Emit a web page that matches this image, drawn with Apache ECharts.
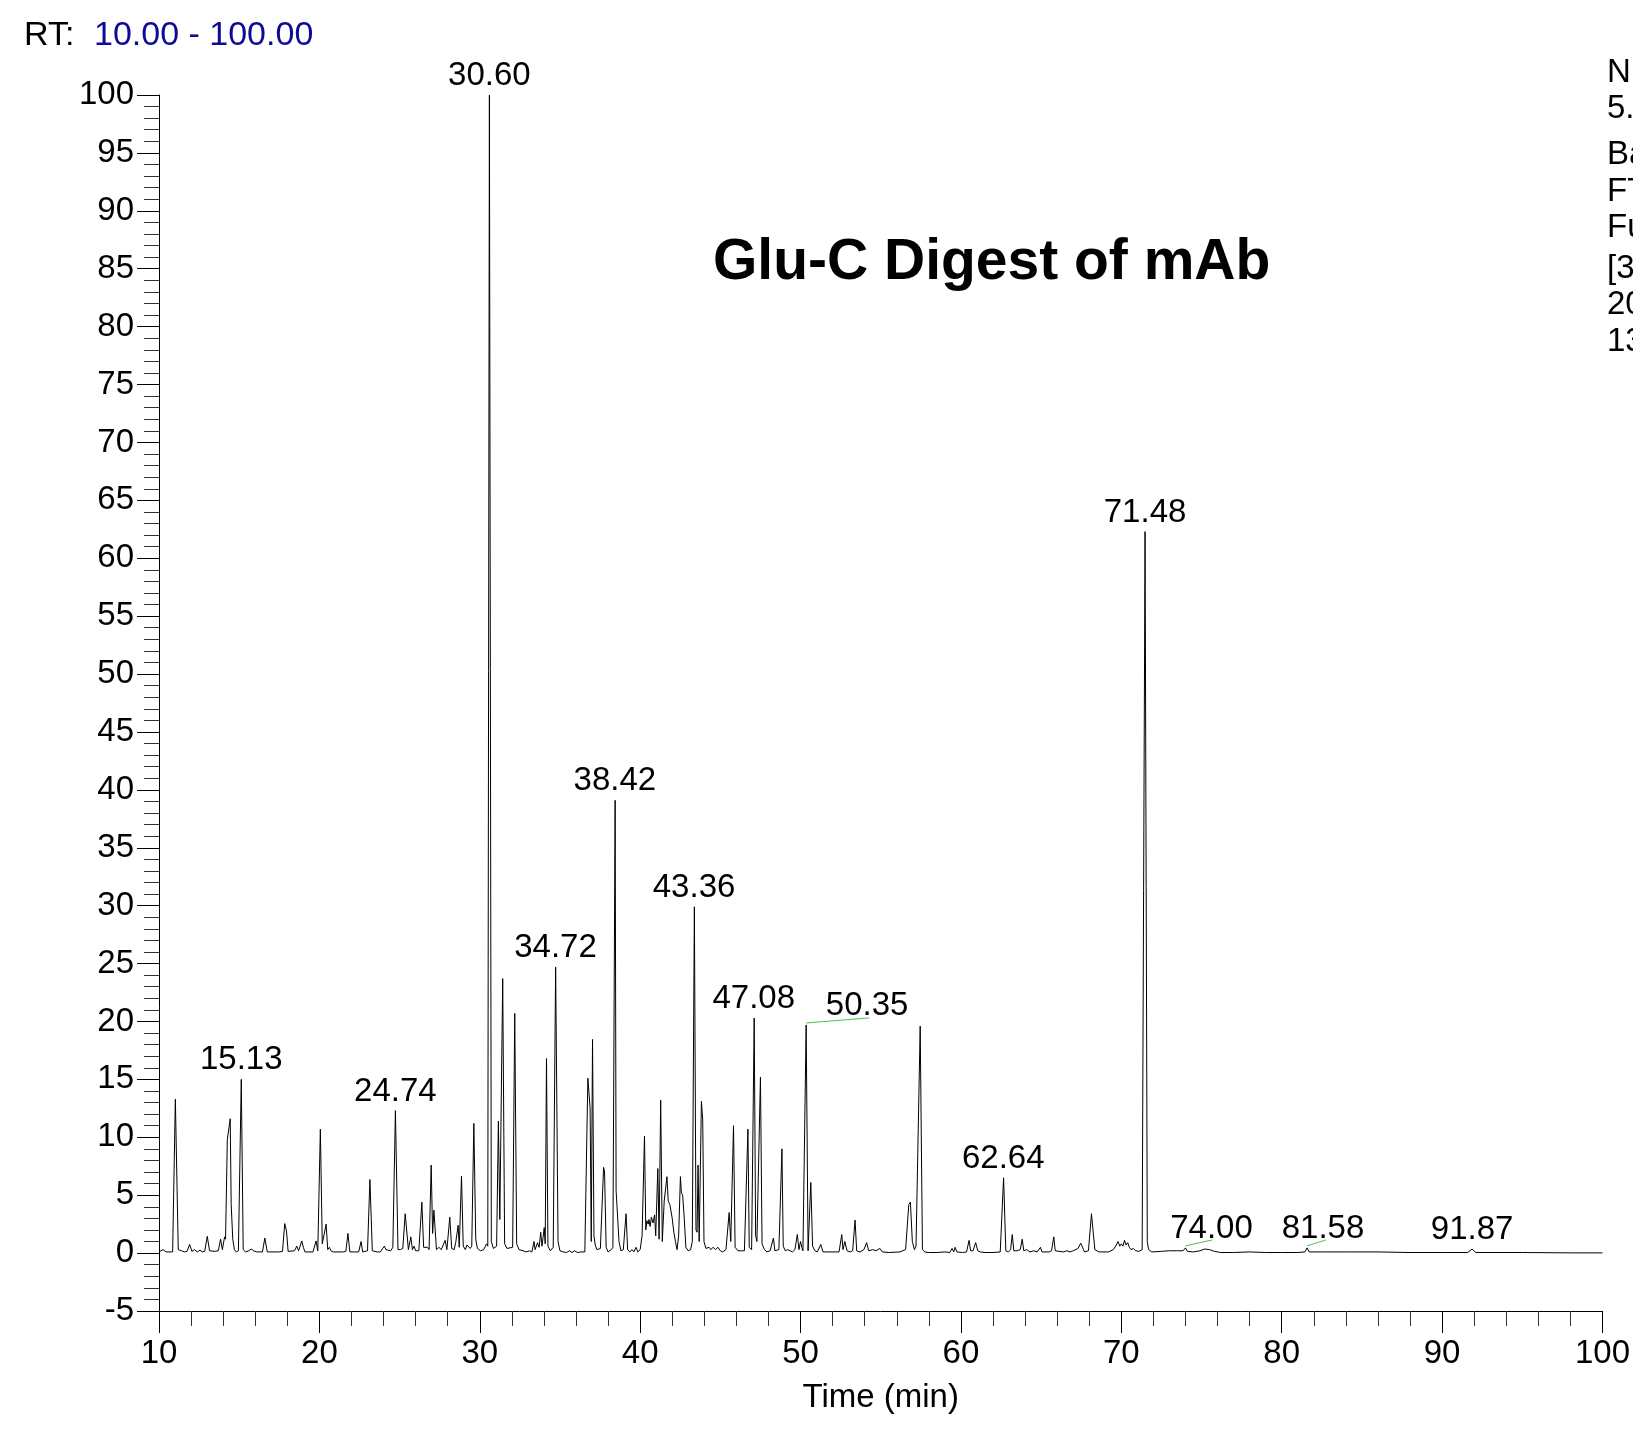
<!DOCTYPE html>
<html>
<head>
<meta charset="utf-8">
<title>Glu-C Digest of mAb</title>
<script src="https://cdn.jsdelivr.net/npm/echarts@6/dist/echarts.min.js"></script>
<style>
  html, body { margin: 0; padding: 0; background: #fff; }
  #main { width: 1633px; height: 1429px; }
</style>
</head>
<body>
<div id="main"></div>
<script>
// trace, [time (min), relative abundance]
var trace10to20 = [
  [10.00,0.1],[10.25,0.3],[10.45,0.1],[10.85,0.1],[11.02,13.3],[11.2,0.3],[11.4,0.2],[11.6,0.1],
  [11.75,0.15],[11.91,0.75],[12.05,0.15],[12.2,0.3],[12.4,0.1],[12.55,0.25],[12.7,0.1],[12.85,0.15],
  [13.01,1.45],[13.15,0.2],[13.5,0.15],[13.7,0.2],[13.84,1.2],[13.95,0.3],[14.09,1.4],[14.15,1.2],
  [14.26,9.8],[14.44,11.6],[14.5,4.2],[14.6,1.2],[14.7,0.3],[14.82,0.1],[14.95,0.2],[15.13,15.0],
  [15.25,0.3],[15.4,0.1],[15.6,0.2],[15.75,0.35],[15.9,0.2],[16.1,0.1],[16.45,0.1],[16.6,1.3],
  [16.75,0.1],[17.5,0.1],[17.7,0.15],[17.84,2.55],[17.95,1.9],[18.05,0.15],[18.45,0.2],[18.59,0.6],
  [18.7,0.2],[18.8,0.6],[18.9,1.05],[19.0,0.5],[19.1,0.1],[19.6,0.1],[19.79,1.05],[19.9,0.2]
];
var trace20to30 = [
  [20.06,10.7],[20.18,0.8],[20.3,0.8],[20.42,2.5],[20.52,0.3],[20.62,0.5],[20.72,0.2],[20.85,0.1],
  [21.5,0.1],[21.65,0.15],[21.78,1.7],[21.9,0.1],[22.45,0.1],[22.6,1.0],[22.7,0.1],[23.0,0.2],
  [23.15,6.35],[23.3,0.2],[23.6,0.1],[23.8,0.1],[23.95,0.4],[24.05,0.6],[24.15,0.3],[24.25,0.4],
  [24.45,0.2],[24.58,0.5],[24.74,12.3],[24.9,0.3],[25.05,0.3],[25.2,0.4],[25.35,3.4],[25.42,3.3],
  [25.55,0.3],[25.7,1.4],[25.8,0.3],[25.9,0.6],[26.0,0.2],[26.2,0.2],[26.39,4.4],[26.5,0.5],
  [26.62,0.4],[26.75,0.5],[26.84,0.3],[26.97,7.6],[27.06,1.7],[27.14,3.7],[27.3,0.3],[27.45,0.5],
  [27.6,0.3],[27.72,0.4],[27.84,1.1],[27.95,0.3],[28.13,3.1],[28.25,0.4],[28.4,0.3],[28.5,0.9],
  [28.65,2.4],[28.72,0.5],[28.86,6.65],[28.97,0.6],[29.1,0.3],[29.2,0.7],[29.4,0.4],[29.5,0.6],
  [29.63,11.2],[29.75,1.2],[29.85,0.4],[29.95,0.5],[30.05,0.2],[30.25,0.3],[30.42,0.8],[30.5,0.6]
];
var trace30to40 = [
  [30.6,100],[30.72,1.0],[30.85,0.4],[30.95,0.4],[31.05,0.6],[31.16,11.4],[31.25,2.9],[31.43,23.7],
  [31.55,0.8],[31.7,0.4],[31.8,0.3],[32.05,0.5],[32.18,20.7],[32.3,0.8],[32.45,0.3],[32.7,0.2],
  [32.9,0.1],[33.1,0.2],[33.25,0.1],[33.38,1.0],[33.45,0.3],[33.6,0.9],[33.7,0.5],[33.8,1.8],
  [33.88,0.6],[34.02,2.2],[34.08,0.8],[34.16,16.8],[34.25,0.6],[34.4,0.2],[34.58,0.5],[34.73,24.7],
  [34.88,1.0],[35.0,0.2],[35.2,0.1],[35.4,0.05],[35.6,0.2],[35.75,0.05],[35.9,0.2],[36.1,0.05],
  [36.3,0.1],[36.55,0.1],[36.74,15.1],[36.88,12.5],[36.95,1.0],[37.03,18.45],[37.12,1.5],[37.2,0.7],
  [37.3,0.3],[37.4,0.2],[37.52,0.4],[37.58,0.3],[37.72,7.4],[37.78,7.0],[37.88,0.5],[38.0,0.1],
  [38.1,0.2],[38.2,0.3],[38.3,0.5],[38.44,39.1],[38.5,5.4],[38.58,5.3],[38.68,1.0],[38.8,0.2],
  [38.95,0.3],[39.12,3.4],[39.22,0.3],[39.35,0.1],[39.5,0.3],[39.6,0.1],[39.75,0.5],[39.85,0.1]
];
var trace40to50 = [
  [40.0,0.3],[40.12,1.5],[40.27,10.1],[40.35,2.0],[40.42,2.8],[40.5,2.5],[40.55,2.9],[40.62,2.3],
  [40.7,3.1],[40.8,2.6],[40.9,3.3],[40.97,1.5],[41.1,7.3],[41.18,1.2],[41.28,13.2],[41.38,1.0],
  [41.5,4.5],[41.67,6.6],[41.75,4.5],[41.85,4.2],[42.0,3.0],[42.1,1.8],[42.2,1.0],[42.3,0.3],
  [42.4,1.5],[42.51,6.6],[42.57,5.2],[42.65,5.0],[42.75,3.0],[42.85,0.5],[43.0,0.2],[43.15,0.3],
  [43.25,1.0],[43.38,29.9],[43.48,2.0],[43.55,1.8],[43.61,7.6],[43.68,1.0],[43.82,13.1],[43.9,11.5],
  [43.98,1.0],[44.1,0.4],[44.3,0.5],[44.4,0.3],[44.55,0.5],[44.7,0.3],[44.85,0.5],[45.0,0.2],
  [45.15,0.1],[45.35,0.3],[45.55,3.5],[45.65,1.0],[45.82,11.0],[45.92,0.5],[46.1,0.2],[46.3,0.2],
  [46.5,0.2],[46.62,0.3],[46.72,10.7],[46.8,0.5],[46.95,0.3],[47.11,20.3],[47.2,1.5],[47.28,1.0],
  [47.5,15.2],[47.6,0.8],[47.75,0.3],[47.9,0.1],[48.1,0.2],[48.31,1.3],[48.4,0.2],[48.5,0.2],
  [48.65,0.3],[48.84,9.0],[48.92,0.6],[49.05,0.2],[49.2,0.3],[49.35,0.2],[49.5,0.1],[49.65,0.3],
  [49.8,1.6],[49.9,0.3],[50.0,1.0],[50.08,0.5],[50.15,0.2]
];
var trace50to70 = [
  [50.35,19.7],[50.47,0.2],[50.64,6.1],[50.75,0.6],[50.9,0.2],[51.05,0.1],[51.26,0.75],[51.4,0.1],
  [52.2,0.1],[52.4,0.1],[52.57,1.6],[52.65,0.3],[52.76,1.0],[52.9,0.2],[53.1,0.1],[53.25,0.2],
  [53.4,2.85],[53.5,0.2],[53.7,0.1],[53.95,0.3],[54.12,0.9],[54.25,0.2],[54.5,0.3],[54.7,0.2],
  [54.95,0.4],[55.1,0.1],[55.5,0.05],[56.2,0.1],[56.55,0.3],[56.75,4.2],[56.85,4.4],[56.97,1.0],
  [57.1,0.3],[57.2,0.6],[57.46,19.6],[57.6,0.3],[57.75,0.1],[58.0,0.05],[58.5,0.05],[59.0,0.1],
  [59.3,0.05],[59.45,0.4],[59.55,0.1],[59.64,0.5],[59.75,0.1],[60.1,0.05],[60.35,0.1],[60.51,1.1],
  [60.6,0.2],[60.75,0.2],[60.92,0.9],[61.05,0.2],[61.2,0.1],[61.5,0.05],[62.0,0.05],[62.45,0.1],
  [62.66,6.5],[62.8,0.2],[62.95,0.1],[63.1,0.3],[63.2,1.6],[63.3,0.2],[63.5,0.2],[63.7,0.3],
  [63.82,1.2],[63.92,0.2],[64.1,0.3],[64.3,0.1],[64.55,0.2],[64.75,0.1],[64.96,0.5],[65.05,0.1],
  [65.5,0.1],[65.65,0.2],[65.79,1.4],[65.88,0.2],[66.0,0.1],[66.4,0.1],[66.6,0.2],[66.8,0.1],
  [67.0,0.2],[67.3,0.4],[67.47,0.85],[67.55,0.6],[67.7,0.1],[67.95,0.2],[68.14,3.4],[68.24,3.5],
  [68.35,0.3],[68.6,0.1],[69.2,0.1],[69.5,0.3],[69.65,0.6],[69.8,1.0],[69.9,0.6]
];
var trace70to100 = [
  [70.0,0.8],[70.1,0.6],[70.2,1.1],[70.3,0.7],[70.4,0.9],[70.5,0.5],[70.6,0.3],[70.75,0.4],
  [70.9,0.2],[71.1,0.15],[71.3,0.3],[71.48,62.3],[71.62,1.0],[71.7,0.3],[71.9,0.1],[72.0,0.2],
  [72.5,0.15],[73.0,0.2],[73.5,0.2],[73.85,0.2],[74.0,0.45],[74.12,0.15],[74.5,0.1],[74.9,0.2],
  [75.2,0.35],[75.5,0.3],[75.8,0.15],[76.2,0.05],[77.0,0.05],[78.0,0.1],[79.0,0.05],[80.0,0.05],
  [81.0,0.05],[81.45,0.1],[81.58,0.45],[81.72,0.1],[82.5,0.1],[84.0,0.1],[86.0,0.1],[88.0,0.05],
  [90.0,0.05],[91.6,0.05],[91.87,0.35],[92.1,0.05],[95.0,0.05],[98.0,0.02],[100.0,0.02]
];

// annotated peaks
var peakTimes   = [15.13, 24.74, 30.60, 34.72, 38.42, 43.36, 47.08, 62.64, 71.48, 91.87];
var peakHeights = [15.0, 12.3, 100, 24.7, 39.1, 29.9, 20.3, 6.5, 62.3, 0.35];
// peaks whose label is pushed aside with a green leader line
var offsetTimes   = [50.35, 74.00, 81.58];
var offsetHeights = [19.7, 0.45, 0.45];
var offsetShift   = [61, 26, 16];
var leaderDx      = [63, 27, 19];
var leaderDy      = [-5, -6, -6];

var headerLines = ['NL:', '5.04E9', 'Base Peak', 'FTMS + p ESI', 'Full ms', '[300.00-2000.00]', '2013-05-21', '13:42:10'];

var FONT = '"Liberation Sans", Arial, sans-serif';
var chart = echarts.init(document.getElementById('main'));

var trace = [].concat(trace10to20, trace20to30, trace30to40, trace40to50, trace50to70, trace70to100);

function peakData(times, heights) {
  return times.map(function (t, i) {
    return { value: [t, heights[i]], name: t.toFixed(2) };
  });
}

var headerGraphics = headerLines.map(function (s, i) {
  var ys = [73, 109, 155, 192, 228, 269, 305, 342];
  return { type: 'text', x: 1607, y: ys[i],
    style: { text: s, font: '33px ' + FONT, fill: '#000', verticalAlign: 'middle' } };
});

var axisCommon = {
  axisLine: { onZero: false, lineStyle: { color: '#000', width: 1 } },
  axisTick: { length: 22, lineStyle: { color: '#000', width: 1 } },
  minorTick: { show: true, splitNumber: 5, length: 15, lineStyle: { color: '#333', width: 1 } },
  splitLine: { show: false },
  minorSplitLine: { show: false }
};

var peakLabel = {
  show: true, position: 'top', distance: 2,
  formatter: '{b}', fontSize: 33, fontFamily: FONT, color: '#000', opacity: 1
};

var option = {
  animation: false,
  backgroundColor: '#fff',
  grid: { left: 159, right: 27, top: 95, bottom: 118, containLabel: false },
  xAxis: Object.assign({
    type: 'value', min: 10, max: 100, interval: 10,
    name: 'Time (min)', nameLocation: 'middle', nameGap: 70,
    nameTextStyle: { fontSize: 33, fontFamily: FONT, color: '#000' },
    axisLabel: { fontSize: 33, fontFamily: FONT, color: '#000', margin: 26 }
  }, axisCommon),
  yAxis: Object.assign({
    type: 'value', min: -5, max: 100, interval: 5,
    axisLabel: { fontSize: 33, fontFamily: FONT, color: '#000', margin: 25 }
  }, axisCommon),
  graphic: [
    { type: 'text', x: 24, y: 36,
      style: { text: 'RT:', font: '34px ' + FONT, fill: '#000', verticalAlign: 'middle' } },
    { type: 'text', x: 94, y: 36,
      style: { text: '10.00 - 100.00', font: '34px ' + FONT, fill: '#0b0b98', verticalAlign: 'middle' } },
    { type: 'text', x: 713, y: 263,
      style: { text: 'Glu-C Digest of mAb', font: 'bold 57px ' + FONT, fill: '#000', verticalAlign: 'middle' } }
  ].concat(headerGraphics),
  series: [
    {
      type: 'line',
      data: trace,
      showSymbol: false,
      symbol: 'none',
      smooth: false,
      lineStyle: { color: '#000', width: 1 },
      z: 2
    },
    {
      type: 'scatter',
      data: peakData(peakTimes, peakHeights),
      symbolSize: 1,
      itemStyle: { color: 'rgba(255,255,255,0)' },
      label: peakLabel,
      z: 3
    },
    {
      type: 'scatter',
      data: peakData(offsetTimes, offsetHeights),
      symbolSize: 1,
      itemStyle: { color: 'rgba(255,255,255,0)' },
      label: peakLabel,
      labelLayout: function (p) {
        return { dx: offsetShift[p.dataIndex], dy: 0 };
      },
      z: 3
    },
    {
      // green leader lines from the peak apex towards the shifted label
      type: 'custom',
      data: offsetTimes.map(function (t, i) { return [t, offsetHeights[i], i]; }),
      renderItem: function (params, api) {
        var p = api.coord([api.value(0), api.value(1)]);
        var i = api.value(2);
        return {
          type: 'line',
          shape: { x1: p[0], y1: p[1] - 2, x2: p[0] + leaderDx[i], y2: p[1] - 2 + leaderDy[i] },
          style: { stroke: '#4fc24f', lineWidth: 1 }
        };
      },
      z: 3
    }
  ]
};

chart.setOption(option);
</script>
</body>
</html>
